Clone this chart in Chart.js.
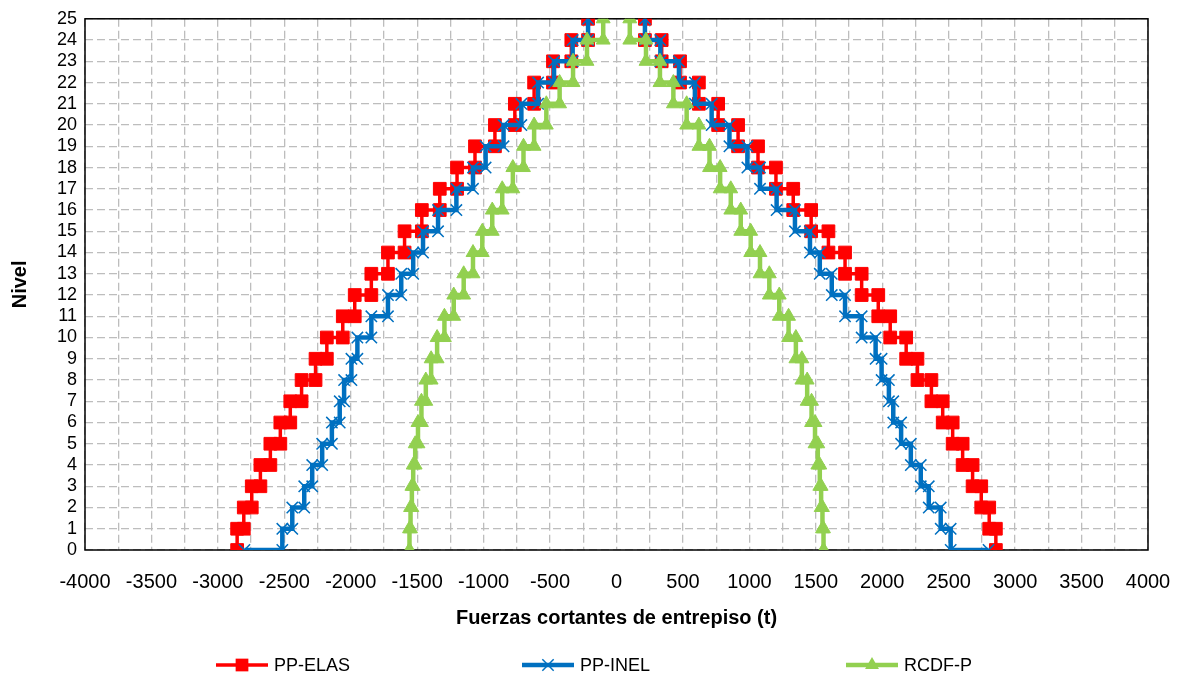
<!DOCTYPE html>
<html>
<head>
<meta charset="utf-8">
<script src="https://cdn.jsdelivr.net/npm/chart.js@4/dist/chart.umd.min.js"></script>
<style>
  html, body { margin: 0; padding: 0; background: #ffffff; }
  #wrap { width: 1182px; height: 676px; position: relative; }
</style>
</head>
<body>
<div id="wrap"><canvas id="c" width="1182" height="676"></canvas></div>
<script>
// Story numbers (story i spans from level i-1 to level i)
const stories = [1,2,3,4,5,6,7,8,9,10,11,12,13,14,15,16,17,18,19,20,21,22,23,24,25];
// Story shear (t), magnitude, story 1 .. 25
const ppElas = [2855, 2805, 2745, 2680, 2605, 2530, 2455, 2370, 2265, 2180, 2060, 1970, 1845, 1720, 1595, 1465, 1330, 1200, 1065, 915, 765, 620, 478, 340, 214];
const ppInel = [2515, 2440, 2350, 2290, 2215, 2142, 2083, 2050, 1995, 1950, 1845, 1720, 1620, 1530, 1456, 1343, 1205, 1080, 985, 850, 716, 590, 470, 330, 214];
const rcdfP  = [1558, 1550, 1540, 1530, 1515, 1494, 1468, 1435, 1395, 1350, 1295, 1225, 1150, 1080, 1010, 935, 860, 780, 700, 620, 528, 428, 327, 222, 100];
// Extra base point of PP-INEL at level 0
const ppInelBase = 2800;
// Axis ticks
const xTickMin = -4000, xTickMax = 4000, xLabelStep = 500, xGridStep = 250;
const yTickMin = 0, yTickMax = 25;
const seriesNames = ['PP-ELAS', 'PP-INEL', 'RCDF-P'];

function stairs(vals, base) {
  const pts = [];
  if (base !== undefined) pts.push({x: -base, y: 0});
  vals.forEach((v, i) => { pts.push({x: -v, y: stories[i] - 1}); pts.push({x: -v, y: stories[i]}); });
  pts.push({x: 0, y: null});
  for (let i = vals.length - 1; i >= 0; i--) { pts.push({x: vals[i], y: stories[i]}); pts.push({x: vals[i], y: stories[i] - 1}); }
  if (base !== undefined) pts.push({x: base, y: 0});
  return pts;
}

const RED = '#FF0000', BLUE = '#0070C0', GREEN = '#92D050';
const FONT = "'Liberation Sans', Arial, sans-serif";
Chart.defaults.font.family = FONT;
Chart.defaults.color = '#000000';

function drawMarker(ctx, style, x, y, r, color, bw) {
  ctx.save();
  ctx.fillStyle = color; ctx.strokeStyle = color; ctx.lineWidth = bw;
  ctx.beginPath();
  if (style === 'rect') {
    const s = Math.SQRT1_2 * r;
    ctx.rect(x - s, y - s, 2 * s, 2 * s); ctx.fill();
  } else if (style === 'crossRot') {
    const s = Math.SQRT1_2 * r;
    ctx.moveTo(x - s, y - s); ctx.lineTo(x + s, y + s);
    ctx.moveTo(x - s, y + s); ctx.lineTo(x + s, y - s); ctx.stroke();
  } else if (style === 'triangle') {
    ctx.moveTo(x, y - r);
    ctx.lineTo(x + Math.sin(2 * Math.PI / 3) * r, y - Math.cos(2 * Math.PI / 3) * r);
    ctx.lineTo(x + Math.sin(4 * Math.PI / 3) * r, y - Math.cos(4 * Math.PI / 3) * r);
    ctx.closePath(); ctx.fill();
  }
  ctx.restore();
}

const legendItems = [
  {name: seriesNames[0], color: RED, style: 'rect', r: 9, lw: 3.5, bw: 1, x: 216},
  {name: seriesNames[1], color: BLUE, style: 'crossRot', r: 8, lw: 4.5, bw: 1.5, x: 522},
  {name: seriesNames[2], color: GREEN, style: 'triangle', r: 8, lw: 4.5, bw: 1, x: 846}
];

const framePlugin = {
  id: 'frame',
  beforeDatasetsDraw(chart) {
    const {ctx, chartArea: a} = chart;
    ctx.save();
    ctx.strokeStyle = '#000000'; ctx.lineWidth = 1.5;
    ctx.strokeRect(a.left, a.top, a.right - a.left, a.bottom - a.top);
    ctx.restore();
  },
  afterDraw(chart) {
    const ctx = chart.ctx;
    const y = 665, len = 52;
    legendItems.forEach(it => {
      ctx.save();
      ctx.strokeStyle = it.color; ctx.lineWidth = it.lw;
      ctx.beginPath(); ctx.moveTo(it.x, y); ctx.lineTo(it.x + len, y); ctx.stroke();
      ctx.restore();
      drawMarker(ctx, it.style, it.x + len / 2, y, it.r, it.color, it.bw);
      ctx.save();
      ctx.fillStyle = '#000000'; ctx.font = '18px ' + FONT;
      ctx.textBaseline = 'middle'; ctx.textAlign = 'left';
      ctx.fillText(it.name, it.x + len + 6, y + 1);
      ctx.restore();
    });
  }
};

const gridColor = '#bdbdbd';

new Chart(document.getElementById('c'), {
  type: 'scatter',
  data: {
    datasets: [
      {label: seriesNames[0], data: stairs(ppElas), showLine: true, order: 3,
       borderColor: RED, backgroundColor: RED, borderWidth: 3.5,
       pointStyle: 'rect', pointRadius: 9, pointHoverRadius: 9, pointBackgroundColor: RED, pointBorderColor: RED, pointBorderWidth: 1},
      {label: seriesNames[1], data: stairs(ppInel, ppInelBase), showLine: true, order: 2,
       borderColor: BLUE, backgroundColor: BLUE, borderWidth: 4.5,
       pointStyle: 'crossRot', pointRadius: 8, pointHoverRadius: 8, pointBackgroundColor: BLUE, pointBorderColor: BLUE, pointBorderWidth: 1.5},
      {label: seriesNames[2], data: stairs(rcdfP), showLine: true, order: 1,
       borderColor: GREEN, backgroundColor: GREEN, borderWidth: 4.5,
       pointStyle: 'triangle', pointRadius: 8, pointHoverRadius: 8, pointBackgroundColor: GREEN, pointBorderColor: GREEN, pointBorderWidth: 1}
    ]
  },
  options: {
    responsive: false,
    animation: false,
    spanGaps: false,
    layout: {padding: {top: 16, right: 34, bottom: 0, left: 0}},
    plugins: {legend: {display: false}, tooltip: {enabled: false}},
    scales: {
      x: {
        type: 'linear', min: xTickMin, max: xTickMax,
        afterFit(s) { s.height = 126; s.paddingLeft = 0; s.paddingRight = 0; },
        ticks: {stepSize: xGridStep, autoSkip: false, maxRotation: 0, padding: 20,
          font: {size: 20}, color: '#000000',
          callback: v => (v % xLabelStep === 0 ? String(v) : '')},
        grid: {color: gridColor, lineWidth: 1.3, drawTicks: false},
        border: {display: false, dash: [8, 4]},
        title: {display: true, text: 'Fuerzas cortantes de entrepiso (t)', color: '#000000',
          font: {size: 20, weight: 'bold'}, padding: {top: 0, bottom: 46}}
      },
      y: {
        type: 'linear', min: yTickMin, max: yTickMax,
        afterFit(s) { s.width = 85; },
        ticks: {stepSize: 1, autoSkip: false, padding: 8, font: {size: 18}, color: '#000000'},
        grid: {color: gridColor, lineWidth: 1.3, drawTicks: false},
        border: {display: false, dash: [8, 4]},
        title: {display: true, text: 'Nivel', color: '#000000',
          font: {size: 20, weight: 'bold'}, padding: {top: 8, bottom: 0}}
      }
    }
  },
  plugins: [framePlugin]
});
</script>
</body>
</html>
